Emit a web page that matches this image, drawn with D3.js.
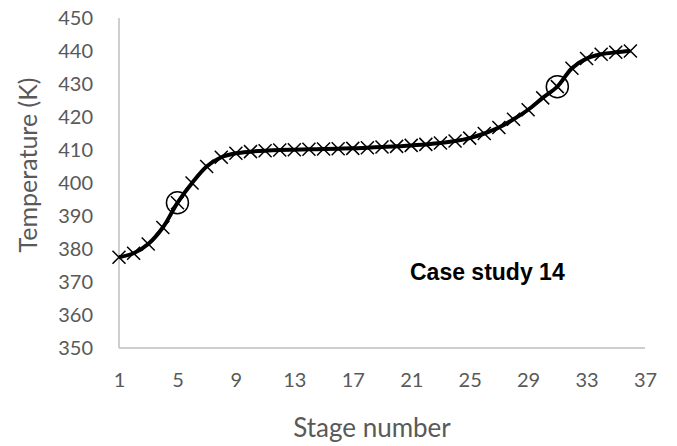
<!DOCTYPE html>
<html>
<head>
<meta charset="utf-8">
<script src="https://cdn.jsdelivr.net/npm/d3@7"></script>
<style>
  html, body { margin: 0; padding: 0; background: #fff; }
  svg { display: block; }
  text { font-family: Lato, "Open Sans", sans-serif; fill: #595959; }
</style>
</head>
<body>
<svg id="chart" width="677" height="446"></svg>
<script>
// Stage numbers and column temperatures
const stages = d3.range(1, 37);
const temperatures = [
  377.5, 378.7, 381.5, 386.5, 394.0, 400.0, 405.0, 407.8, 409.0, 409.5,
  409.8, 410.0, 410.1, 410.2, 410.3, 410.4, 410.5, 410.7, 410.9, 411.1,
  411.4, 411.7, 412.1, 412.7, 413.6, 415.0, 416.8, 419.3, 422.2, 425.8,
  429.2, 434.8, 437.7, 439.0, 439.6, 440.0
];
// Stages highlighted with an open circle
const highlightedStages = [5, 31];
const xTicks = [1, 5, 9, 13, 17, 21, 25, 29, 33, 37];
const yTicks = d3.range(350, 451, 10);
const annotation = "Case study 14";

const svg = d3.select("#chart");
const plot = { left: 119, right: 645, top: 18, bottom: 348 };

const x = d3.scaleLinear().domain([1, 37]).range([plot.left, plot.right]);
const y = d3.scaleLinear().domain([350, 450]).range([plot.bottom, plot.top]);

const data = stages.map((s, i) => ({ stage: s, t: temperatures[i] }));

// Axis lines
const axisColor = "#bfbfbf";
svg.append("line")
  .attr("x1", x(1)).attr("x2", x(1))
  .attr("y1", y(450)).attr("y2", y(350))
  .attr("stroke", axisColor).attr("stroke-width", 1.5);
svg.append("line")
  .attr("x1", x(1)).attr("x2", x(37))
  .attr("y1", y(350)).attr("y2", y(350))
  .attr("stroke", axisColor).attr("stroke-width", 1.5);

// Y tick labels
const yAxis = d3.axisLeft(y).tickValues(yTicks).tickSize(0).tickPadding(26);
const gy = svg.append("g").attr("transform", `translate(${x(1)},0)`).call(yAxis);
gy.select(".domain").remove();
gy.selectAll("text").style("font-size", "20px").attr("fill", "#595959")
  .style("font-family", "Lato, 'Open Sans', sans-serif");

// X tick labels
const xAxis = d3.axisBottom(x).tickValues(xTicks).tickSize(0).tickPadding(25);
const gx = svg.append("g").attr("transform", `translate(0,${y(350)})`).call(xAxis);
gx.select(".domain").remove();
gx.selectAll("text").style("font-size", "20px").attr("fill", "#595959")
  .style("font-family", "Lato, 'Open Sans', sans-serif");

// Axis titles
svg.append("text")
  .attr("transform", "translate(37,165) rotate(-90)")
  .attr("text-anchor", "middle")
  .style("font-size", "25px")
  .text("Temperature (K)");
svg.append("text")
  .attr("x", 372)
  .attr("y", 437)
  .attr("text-anchor", "middle")
  .style("font-size", "26px")
  .text("Stage number");

// Smoothed profile line
const line = d3.line()
  .x(d => x(d.stage))
  .y(d => y(d.t))
  .curve(d3.curveCatmullRom.alpha(0.5));
svg.append("path")
  .datum(data)
  .attr("d", line)
  .attr("fill", "none")
  .attr("stroke", "#000")
  .attr("stroke-width", 4)
  .attr("stroke-linejoin", "round");

// Cross markers at each stage
const m = 6.5;
svg.append("g").selectAll("path")
  .data(data)
  .join("path")
  .attr("d", d => {
    const cx = x(d.stage), cy = y(d.t);
    return `M${cx - m},${cy - m}L${cx + m},${cy + m}M${cx - m},${cy + m}L${cx + m},${cy - m}`;
  })
  .attr("stroke", "#000")
  .attr("stroke-width", 1.5)
  .attr("fill", "none");

// Open circles on highlighted stages
svg.append("g").selectAll("circle")
  .data(data.filter(d => highlightedStages.includes(d.stage)))
  .join("circle")
  .attr("cx", d => x(d.stage))
  .attr("cy", d => y(d.t))
  .attr("r", 11)
  .attr("fill", "none")
  .attr("stroke", "#000")
  .attr("stroke-width", 1.5);

// Case label
svg.append("text")
  .attr("x", 410)
  .attr("y", 280)
  .style("font-family", "'Liberation Sans', Arial, sans-serif")
  .style("font-weight", "bold")
  .style("font-size", "23px")
  .style("fill", "#000")
  .text(annotation);
</script>
</body>
</html>
